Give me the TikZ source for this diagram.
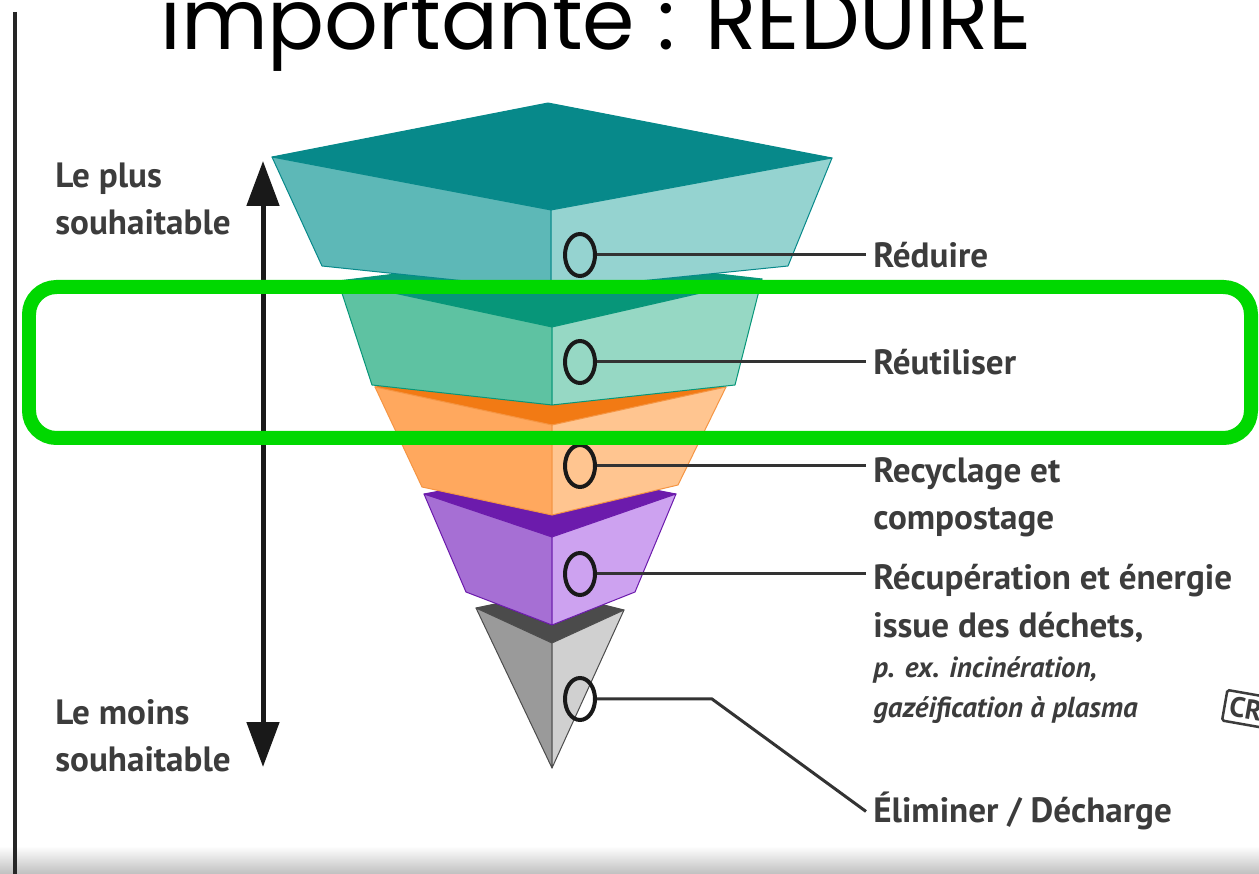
\documentclass[tikz,border=0pt]{standalone}
\usepackage{fontspec}
\setmainfont{PT Sans}
\newfontfamily\handfont{Poppins}
\usetikzlibrary{arrows.meta,shapes.geometric}

\definecolor{tealtop}{HTML}{07898A}
\definecolor{tealleft}{HTML}{5DB8B7}
\definecolor{tealright}{HTML}{95D3D0}
\definecolor{mintop}{HTML}{079679}
\definecolor{minleft}{HTML}{5EC2A2}
\definecolor{minright}{HTML}{96D8C4}
\definecolor{orgtop}{HTML}{F27A14}
\definecolor{orgleft}{HTML}{FFA85E}
\definecolor{orgright}{HTML}{FFC590}
\definecolor{purtop}{HTML}{6C1BAC}
\definecolor{purleft}{HTML}{A66FD4}
\definecolor{purright}{HTML}{CDA2F0}
\definecolor{grytop}{HTML}{4B4B4B}
\definecolor{gryleft}{HTML}{9A9A9A}
\definecolor{gryright}{HTML}{D0D0D0}
\definecolor{labgray}{HTML}{3C3C3C}
\definecolor{hilite}{HTML}{00D800}

\begin{document}
\begin{tikzpicture}[x=0.02cm, y=-0.02cm,
    ring/.style={draw=black!90, ellipse, line width=0.08cm, minimum width=0.6cm, minimum height=0.84cm, inner sep=0pt},
    lnode/.style={anchor=base west, inner xsep=0.14cm, inner ysep=0pt, align=left, text=labgray, font=\bfseries\fontsize{20}{27}\selectfont},
    lead/.style={draw=black!80, line width=0.06cm},
    face/.style={line width=0.02cm, line join=round},
    dbl/.style={{Triangle[width=0.64cm,length=0.9cm]}-{Triangle[width=0.64cm,length=0.9cm]}, line width=0.1cm, draw=black!90}]
    \useasboundingbox (0,0) rectangle (1259,874);
    \clip (0,0) rectangle (1259,874);
    \fill[white] (0,0) rectangle (1259,874);
    \shade[top color=white, bottom color=black!25] (0,846) rectangle (1259,874);

    \node[anchor=base west, inner sep=0pt, font=\handfont\fontsize{48}{48}\selectfont] (ttl) at (160,50) {importante : RÉDUIRE};
    \coordinate (r0) at (15,12);
    \coordinate (r1) at (15,874);
    \draw[line width=0.08cm, black!85] (r0) -- (r1);

    % pyramid, lowest layer first
    \filldraw[face, fill=grytop, draw=grytop] (476,608) -- (552,592) -- (624,610) -- (552,643) -- cycle;
    \filldraw[face, fill=gryleft, draw=black!70] (476,608) -- (552,643) -- (552,768) -- cycle;
    \filldraw[face, fill=gryright, draw=black!70] (552,643) -- (624,610) -- (552,768) -- cycle;

    \filldraw[face, fill=purtop, draw=purtop] (424,494) -- (552,470) -- (676,494) -- (552,537) -- cycle;
    \filldraw[face, fill=purleft, draw=purtop] (424,494) -- (552,537) -- (552,625) -- (466,592) -- cycle;
    \filldraw[face, fill=purright, draw=purtop] (552,537) -- (676,494) -- (635,592) -- (552,625) -- cycle;

    \filldraw[face, fill=orgtop, draw=orgtop] (375,387) -- (552,368) -- (726,387) -- (552,425) -- cycle;
    \filldraw[face, fill=orgleft, draw=orgtop!80] (375,387) -- (552,425) -- (552,515) -- (422,487) -- cycle;
    \filldraw[face, fill=orgright, draw=orgtop!80] (552,425) -- (726,387) -- (678,485) -- (552,515) -- cycle;

    \filldraw[face, fill=mintop, draw=mintop] (338,281) -- (552,255) -- (762,279) -- (552,327) -- cycle;
    \filldraw[face, fill=minleft, draw=mintop] (338,281) -- (552,327) -- (552,405) -- (372,385) -- cycle;
    \filldraw[face, fill=minright, draw=mintop] (552,327) -- (762,279) -- (735,385) -- (552,405) -- cycle;

    \filldraw[face, fill=tealtop, draw=tealtop] (272,157) -- (548,103) -- (832,158) -- (551,210) -- cycle;
    \filldraw[face, fill=tealleft, draw=tealtop] (272,157) -- (551,210) -- (551,290) -- (322,266) -- cycle;
    \filldraw[face, fill=tealright, draw=tealtop] (551,210) -- (832,158) -- (788,266) -- (551,290) -- cycle;

    \node[ring] (c1) at (580,255) {};
    \node[ring] (c2) at (580,362) {};
    \node[ring] (c3) at (580,466) {};
    \node[ring] (c4) at (580,574) {};
    \node[ring] (c5) at (580,699) {};

    % multi-line labels sit on the baseline of their last line
    \node[lnode] (t1) at (866,268) {Réduire};
    \node[lnode] (t2) at (866,375) {Réutiliser};
    \node[lnode] (t3) at (866,530) {Recyclage et\\compostage};
    \node[lnode] (t4) at (866,718) {Récupération et énergie\\issue des déchets,\\[-4pt]
        {\itshape\fontsize{16.5}{23}\selectfont p. ex. incinération,}\\[-4pt]
        {\itshape\fontsize{16.5}{23}\selectfont gazéification à plasma}};
    \node[lnode] (t5) at (866,823) {Éliminer / Décharge};
    \coordinate (k5) at (712,699);

    \draw[lead] (c1.east) -- (c1 -| t1.west);
    \draw[lead] (c2.east) -- (c2 -| t2.west);
    \draw[lead] (c3.east) -- (c3 -| t3.west);
    \draw[lead] (c4.east) -- (c4 -| t4.west);
    \draw[lead] (c5.east) -- (k5) -- (t5.west);

    \node[lnode, inner sep=0pt] (hi) at (55,235) {Le plus\\souhaitable};
    \node[lnode, inner sep=0pt] (lo) at (55,772) {Le moins\\souhaitable};
    \coordinate (up) at (263,161);
    \coordinate (dn) at (263,767);
    \draw[dbl] (up) -- (dn);

    \node[draw=labgray, text=labgray, rotate=-10, rounded corners=1pt, line width=0.05cm, inner sep=3pt, font=\bfseries\fontsize{16}{16}\selectfont] (cr) at (1246,709) {CR};

    \draw[hilite, line width=0.28cm, rounded corners=0.55cm] (29,287) rectangle (1251,438);
\end{tikzpicture}
\end{document}
